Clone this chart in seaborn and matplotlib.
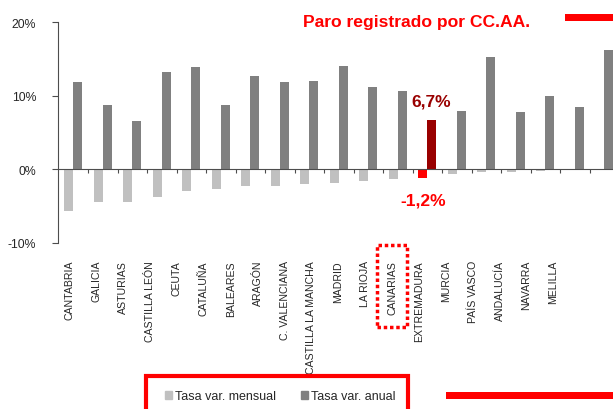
import numpy as np
import pandas as pd
import matplotlib
matplotlib.use("Agg")
import matplotlib.pyplot as plt
import matplotlib.patches as mpatches
import matplotlib.transforms as mtransforms
import seaborn as sns

# ── Data ──────────────────────────────────────────────────────────────────────
regiones = ["CANTABRIA", "GALICIA", "ASTURIAS", "CASTILLA LEÓN", "CEUTA",
            "CATALUÑA", "BALEARES", "ARAGÓN", "C. VALENCIANA",
            "CASTILLA LA MANCHA", "MADRID", "LA RIOJA", "CANARIAS",
            "EXTREMADURA", "MURCIA", "PAÍS VASCO", "ANDALUCÍA", "NAVARRA",
            "MELILLA"]
mensual = [-5.6, -4.4, -4.4, -3.8, -3.0, -2.7, -2.3, -2.2, -2.0, -1.9, -1.6,
           -1.3, -1.2, -0.6, -0.4, -0.3, -0.2, -0.1, 0.1]
anual = [11.9, 8.8, 6.6, 13.2, 13.9, 8.8, 12.7, 11.8, 12.0, 14.0, 11.2, 10.7,
         6.7, 7.9, 15.2, 7.8, 10.0, 8.5, 16.2]
series = ["Tasa var. mensual", "Tasa var. anual"]
destacada = "CANARIAS"
yticks = [-10, 0, 10, 20]

# ── Colours ───────────────────────────────────────────────────────────────────
LIGHT = "#c0c0c0"
DARK = "#808080"
RED = "#ff0000"
DARKRED = "#990000"
AXIS = "#4d4d4d"

df = pd.DataFrame({
    "region": regiones * 2,
    "serie": [series[0]] * len(regiones) + [series[1]] * len(regiones),
    "valor": mensual + anual,
})

sns.set_style("white")
plt.rcParams["font.family"] = ["Liberation Sans", "DejaVu Sans"]

W, H = 613, 410
fig = plt.figure(figsize=(W / 100, H / 100), dpi=100)
ax = fig.add_axes([58.5 / W, 166 / H, 560.5 / W, 221 / H])

sns.barplot(data=df, x="region", y="valor", hue="serie", order=regiones,
            hue_order=series, palette=[LIGHT, DARK], saturation=1,
            width=0.6, gap=0, linewidth=0, legend=False, ax=ax)

idx = regiones.index(destacada)
ax.containers[0][idx].set_facecolor(RED)
ax.containers[1][idx].set_facecolor(DARKRED)

ax.set_xlim(-0.5, len(regiones) - 0.5)
ax.set_ylim(-10, 20)
ax.set_yticks(yticks)
ax.set_yticklabels([f"{v}%" for v in yticks], fontsize=8.8)
ax.set_xticks(np.arange(0.5, len(regiones) - 1))
ax.set_xticklabels([])
ax.set_xlabel("")
ax.set_ylabel("")
for s in ["top", "right"]:
    ax.spines[s].set_visible(False)
ax.spines["left"].set_color(AXIS)
ax.spines["bottom"].set_position(("data", 0))
ax.spines["bottom"].set_color(AXIS)
ax.tick_params(axis="y", length=4, pad=12, color=AXIS, left=True)
ax.tick_params(axis="x", length=3, direction="out", color=AXIS, bottom=True)
ax.patch.set_alpha(0)

# value labels for the highlighted region
ax.annotate(f"{anual[idx]:.1f}%".replace(".", ","), (idx + 0.15, anual[idx]),
            xytext=(0, 8), textcoords="offset points", ha="center",
            va="bottom", color=DARKRED, fontsize=12.5, fontweight="bold")
ax.annotate(f"{mensual[idx]:.1f}%".replace(".", ","), (idx - 0.15, mensual[idx]),
            xytext=(0, -10), textcoords="offset points", ha="center",
            va="top", color=RED, fontsize=12.5, fontweight="bold")

# category labels (laid out on their own, narrower strip)
ax_lab = fig.add_axes([55.9 / W, (H - 261) / H, 511 / W, 0.001])
ax_lab.set_frame_on(False)
ax_lab.set_xlim(-0.5, len(regiones) - 0.5)
ax_lab.set_xticks(range(len(regiones)))
ax_lab.set_xticklabels(regiones, rotation=90, fontsize=7.6, va="top")
ax_lab.set_yticks([])
ax_lab.tick_params(axis="x", length=0, pad=0)

blend = mtransforms.blended_transform_factory(ax_lab.transData, fig.transFigure)
fig.add_artist(mpatches.Rectangle((idx - 0.56, 1 - 328 / H), 1.12, 82 / H,
                                  transform=blend, fill=False, edgecolor=RED,
                                  lw=2.5, linestyle=(0, (1, 0.8)), clip_on=False))

# title + decorations
fig.text(303 / W, 1 - 23 / H, "Paro registrado por CC.AA.", color=RED,
         fontsize=12.6, fontweight="bold", ha="left", va="center")
fig.add_artist(mpatches.Rectangle((565 / W, 1 - 22 / H), 48 / W, 7 / H,
                                  transform=fig.transFigure, color=RED, lw=0))
fig.add_artist(mpatches.Rectangle((446 / W, 1 - 400 / H), 167 / W, 7 / H,
                                  transform=fig.transFigure, color=RED, lw=0))

# legend in red box
fig.add_artist(mpatches.Rectangle((146 / W, -0.02), 262 / W, (H - 377) / H + 0.02,
                                  transform=fig.transFigure, fill=False,
                                  edgecolor=RED, lw=3, clip_on=False))
handles = [mpatches.Patch(color=LIGHT), mpatches.Patch(color=DARK)]
fig.legend(handles, series, loc="center", bbox_to_anchor=(280 / W, 1 - 397 / H),
           ncol=2, frameon=False, handlelength=0.6, handleheight=0.6,
           handletextpad=0.2, columnspacing=2.0, fontsize=9)

fig.savefig("out.png", dpi=100)
